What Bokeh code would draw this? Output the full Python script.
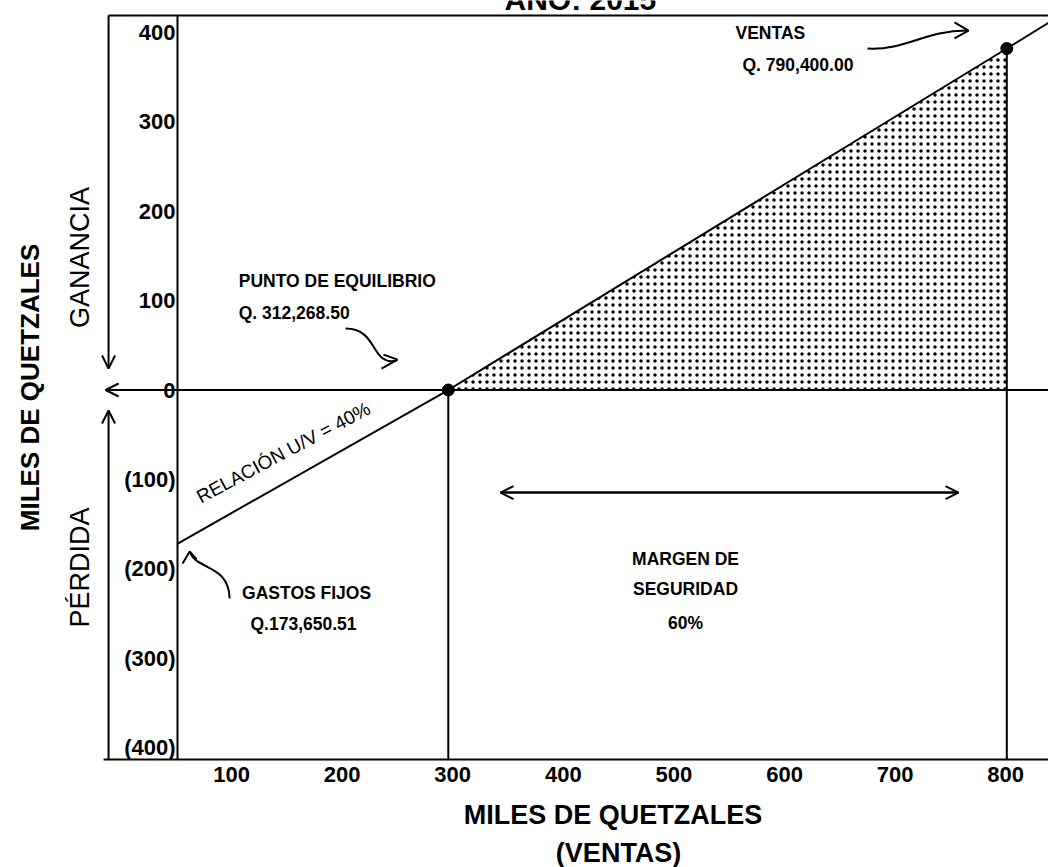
import math
from bokeh.plotting import figure
from bokeh.models import Range1d, FixedTicker, Label, Arrow, OpenHead
from bokeh.embed import file_html
from bokeh.resources import INLINE

# ---------------- data ----------------
x_ticks = [100, 200, 300, 400, 500, 600, 700, 800]
x_tick_labels = ["100", "200", "300", "400", "500", "600", "700", "800"]
y_ticks = [-400, -300, -200, -100, 0, 100, 200, 300, 400]
y_tick_labels = ["(400)", "(300)", "(200)", "(100)", "0", "100", "200", "300", "400"]

# sales (x) vs. result (y) line, in thousands of quetzales
ventas = [51, 296, 801, 839]
resultado = [-172, 0, 382, 411]

# break-even point and sales point
pe_x, pe_y = 296, 0
v_x, v_y = 801, 382

# ---------------- layout constants (data units) ----------------
XA, X1 = 51.2, 838.7          # y-axis position, right edge
Y0, Y1 = -413.3, 418.9        # bottom line, top line
XBOX = -11.2                  # left box line
FONT = "Liberation Sans"

p = figure(width=1048, height=867,
           x_range=Range1d(-108.9, 838.7), y_range=Range1d(-534.1, 435.7),
           output_backend="svg", toolbar_location=None,
           min_border=0, min_border_left=0, min_border_right=0,
           min_border_top=0, min_border_bottom=0,
           outline_line_color=None, background_fill_color="white")
p.grid.visible = False

# axes placed inside the frame
xa = p.xaxis[0]
xa.fixed_location = Y0
xa.bounds = (XA, X1)
xa.ticker = FixedTicker(ticks=x_ticks)
xa.major_label_overrides = {t: l for t, l in zip(x_ticks, x_tick_labels)}
xa.major_tick_line_color = None
xa.minor_tick_line_color = None
xa.major_tick_out = 0
xa.major_tick_in = 0
xa.axis_line_width = 2
xa.axis_line_color = "black"
xa.major_label_text_font = FONT
xa.major_label_text_font_style = "bold"
xa.major_label_text_font_size = "22px"
xa.major_label_text_color = "black"
xa.major_label_standoff = 7
xa.axis_label = "MILES DE QUETZALES"
xa.axis_label_text_font = FONT
xa.axis_label_text_font_style = "bold"
xa.axis_label_text_font_size = "27px"
xa.axis_label_text_color = "black"
xa.axis_label_standoff = 15

ya = p.yaxis[0]
ya.fixed_location = XA
ya.bounds = (Y0, Y1)
ya.ticker = FixedTicker(ticks=y_ticks)
ya.major_label_overrides = {t: l for t, l in zip(y_ticks, y_tick_labels)}
ya.major_tick_line_color = None
ya.minor_tick_line_color = None
ya.major_tick_out = 0
ya.major_tick_in = 0
ya.axis_line_width = 2
ya.axis_line_color = "black"
ya.major_label_text_font = FONT
ya.major_label_text_font_style = "bold"
ya.major_label_text_font_size = "22px"
ya.major_label_text_color = "black"
ya.major_label_standoff = 2
ya.axis_label = "MILES DE QUETZALES"
ya.axis_label_text_font = FONT
ya.axis_label_text_font_style = "bold"
ya.axis_label_text_font_size = "26px"
ya.axis_label_text_color = "black"
ya.axis_label_standoff = 76

# shaded profit triangle
p.patch([pe_x, v_x, v_x], [pe_y, v_y, pe_y], fill_color="white", line_color=None,
        hatch_pattern="dot", hatch_color="black", hatch_scale=7, hatch_weight=3)

# vertical lines down from break-even and sales points
p.segment(x0=[pe_x, v_x], y0=[pe_y, v_y], x1=[pe_x, v_x], y1=[Y0, Y0],
          line_color="black", line_width=2)

# result line
p.line(ventas, resultado, line_color="black", line_width=2)

# points
p.scatter([pe_x, v_x], [pe_y, v_y], size=12, color="black")

# ---------------- box lines ----------------
p.segment(x0=[XBOX, -15.7], y0=[Y1, Y0], x1=[X1, XA], y1=[Y1, Y0],
          line_color="black", line_width=2)

def add_arrow(xs, ys, xe, ye):
    p.add_layout(Arrow(x_start=xs, y_start=ys, x_end=xe, y_end=ye,
                       line_color="black", line_width=2,
                       end=OpenHead(size=13, line_width=2, line_color="black")))

add_arrow(X1, 0, -13.9, 0)              # zero line with head to the left
add_arrow(XBOX, Y1, XBOX, 24.0)         # GANANCIA arrow (down)
add_arrow(XBOX, Y0, XBOX, -22.9)        # PÉRDIDA arrow (up)
add_arrow(343.2, -114.7, 757.3, -114.7) # margin of safety (double headed)
add_arrow(757.3, -114.7, 343.2, -114.7)

# curvy annotation arrows
p.bezier(x0=[675.1, 203.1, 98.3], y0=[382.0, 68.8, -233.2],
         x1=[764.6, 249.2, 62.2], y1=[402.1, 33.0, -180.6],
         cx0=[709.4, 232.9, 97.4], cy0=[379.8, 68.8, -194.1],
         cx1=[727.5, 225.7, 67.6], cy1=[402.1, 26.3, -201.9],
         line_color="black", line_width=2)
p.multi_line(xs=[[753.7, 766.4, 753.7], [237.4, 250.1, 235.6], [55.7, 62.2, 68.4]],
             ys=[[411.1, 402.1, 393.2], [39.6, 34.0, 24.0], [-194.1, -180.6, -189.6]],
             line_color="black", line_width=2)

# ---------------- texts ----------------
def lab(x, y, t, size="17.5px", style="bold", align="left", baseline="middle", angle=0.0):
    p.add_layout(Label(x=x, y=y, text=t, text_font=FONT, text_font_size=size,
                       text_font_style=style, text_align=align, text_baseline=baseline,
                       text_color="black", angle=angle))

lab(415.4, 436.8, "AÑO: 2015", size="30px", align="center")
lab(555.7, 399.9, "VENTAS")
lab(562.0, 363.0, "Q. 790,400.00")
lab(106.5, 121.4, "PUNTO DE EQUILIBRIO")
lab(106.5, 85.6, "Q. 312,268.50")
lab(147.0, -69.9, "RELACIÓN U/V = 40%", size="19px", style="normal", align="center",
    angle=math.radians(28))
lab(167.9, -226.5, "GASTOS FIJOS", align="center")
lab(165.1, -261.2, "Q.173,650.51", align="center")
lab(510.5, -188.5, "MARGEN DE", align="center")
lab(510.5, -222.1, "SEGURIDAD", align="center")
lab(510.5, -260.1, "60%", align="center")
lab(-37.4, 148.2, "GANANCIA", size="27px", style="normal", align="center", angle=math.pi / 2)
lab(-37.4, -198.6, "PÉRDIDA", size="27px", style="normal", align="center", angle=math.pi / 2)
lab(450.0, -518.0, "(VENTAS)", size="27px", align="center")

open("out.html", "w").write(file_html(p, INLINE))
